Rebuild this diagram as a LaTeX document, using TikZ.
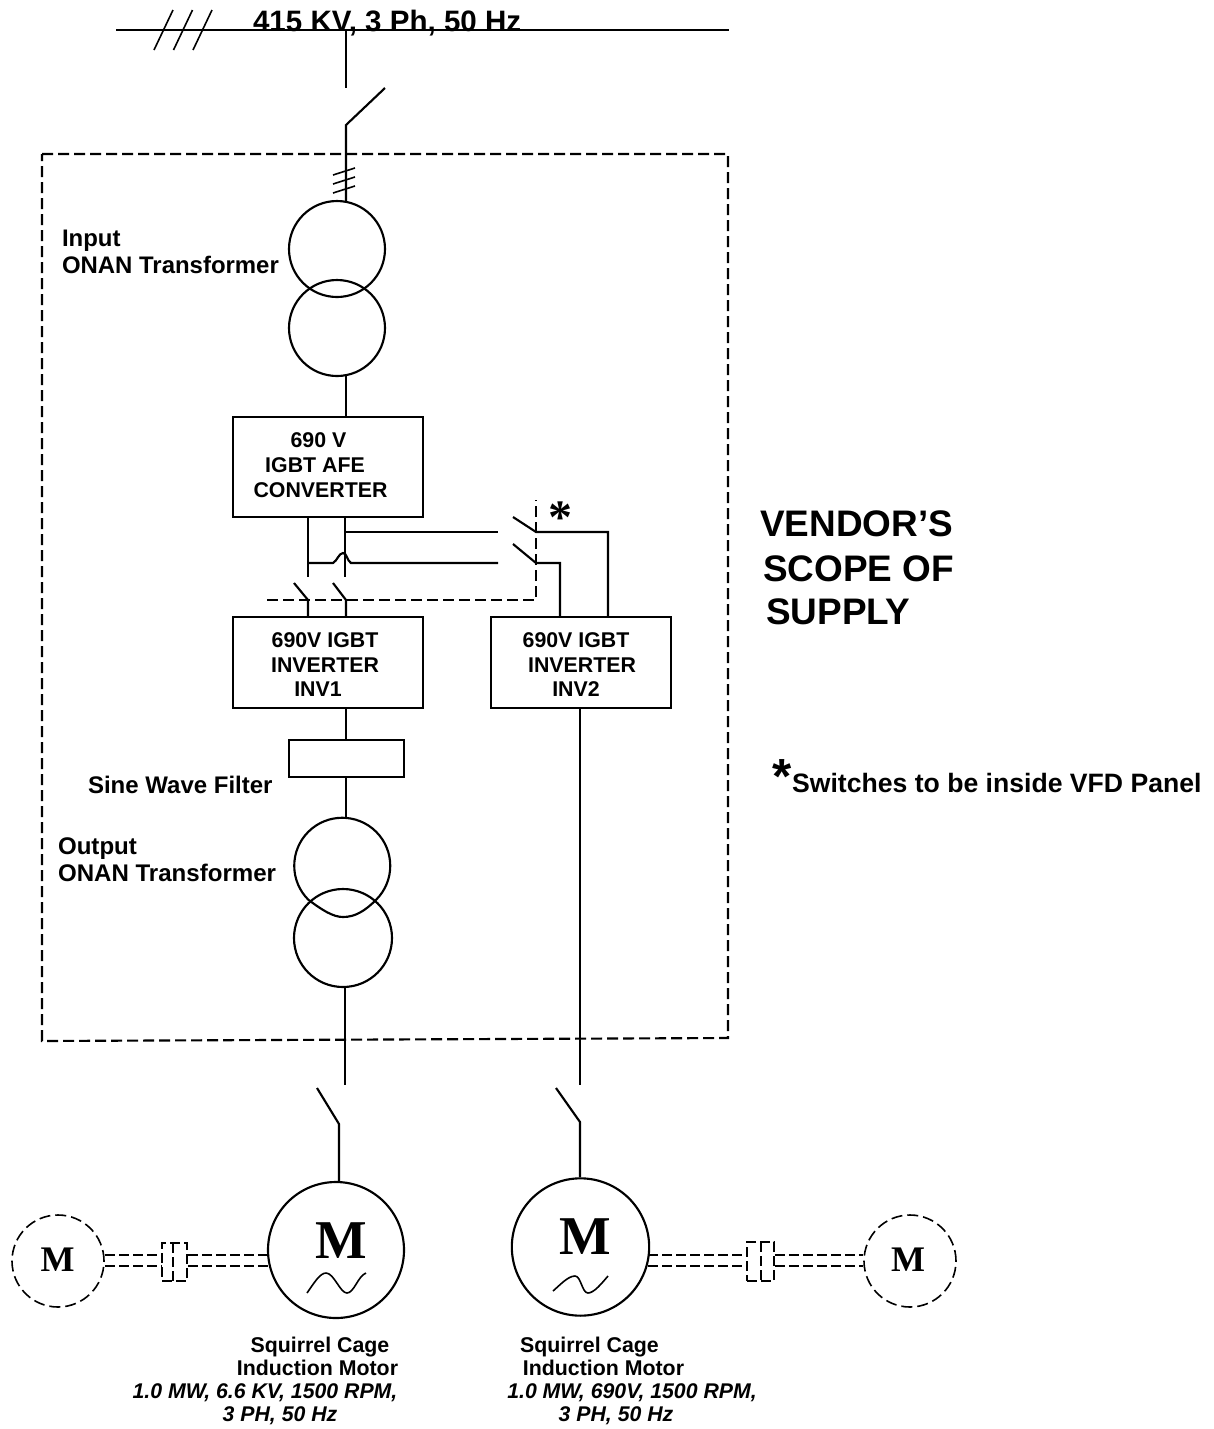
\documentclass[tikz,border=0pt]{standalone}
\usepackage{fontspec}
\setmainfont{Liberation Sans}
\newfontfamily\timesf{Liberation Serif}
\newcommand{\px}[1]{\fontsize{#1}{#1}\selectfont}
\begin{document}
\begin{tikzpicture}[x=0.75pt,y=-0.75pt,line width=1.6pt,
  dsh/.style={dash pattern=on 8.25pt off 3.75pt},
  lbl/.style={anchor=base west,inner sep=0pt,font=\bfseries\px{17.95pt}},
  captxt/.style={anchor=base,inner sep=0pt,font=\bfseries\px{16pt}},
  ital/.style={anchor=base,inner sep=0pt,font=\bfseries\itshape\px{15.95pt}},
  boxn/.style={draw,rectangle,inner sep=0pt},
  wind/.style={draw,circle,inner sep=0pt,minimum size=72pt},
  motor/.style={draw,circle,inner sep=0pt,minimum size=102pt},
  auxm/.style={draw,circle,inner sep=0pt,minimum size=69pt,dsh,line width=1.2pt},
  bigm/.style={inner sep=0pt,font=\timesf\bfseries\px{41pt}},
  smallm/.style={inner sep=0pt,font=\timesf\bfseries\px{27pt}},
  shaft/.style={line width=1.2pt,dash pattern=on 7.5pt off 3pt}]
\useasboundingbox (0,0) rectangle (1214,1429);
\fill[white] (0,0) rectangle (1214,1429);

% scope box
\coordinate (sa) at (42,154); \coordinate (sb) at (728,154);
\coordinate (sc) at (728,1038); \coordinate (sd) at (42,1041);
\draw[dsh] (sa) -- (sb) -- (sc) -- (sd) -- cycle;

% incoming bus
\coordinate (busl) at (116,30); \coordinate (busr) at (729,30);
\draw (busl) -- (busr);
\foreach \n/\dx in {a/0,b/19.5,c/39} {
  \coordinate (t\n1) at ({154+\dx},50); \coordinate (t\n2) at ({173+\dx},10);
  \draw[line width=1.2pt] (t\n1) -- (t\n2);
}
\node[lbl,font=\bfseries\px{22.15pt}] (title) at (252,31) {415 KV, 3 Ph, 50 Hz};
\coordinate (bustap) at (346,30); \coordinate (s0a) at (346,88);
\coordinate (s0b) at (346,125); \coordinate (s0c) at (385,88);
\draw (bustap) -- (s0a);
\draw (s0c) -- (s0b) -- (346,202);
\foreach \y in {0,9,18} {
  \coordinate (h1) at (333,{175+\y}); \coordinate (h2) at (355,{168+\y});
  \draw[line width=1.2pt] (h1) -- (h2);
}

% input transformer
\node[wind] (tr1) at (337,249) {};
\node[wind] (tr2) at (337,328) {};
\node[lbl] (in1) at (61,246) {Input};
\node[lbl] (in2) at (61,273.5) {ONAN Transformer};

% AFE
\node[boxn,minimum width=142.5pt,minimum height=75pt] (afe) at (328,467) {};
\node[captxt] (afe1) at (318.5,447.5) {690 V};
\node[captxt] (afe2) at (315,472.5) {IGBT AFE};
\node[captxt] (afe3) at (320.5,497) {CONVERTER};
\coordinate (trout) at (346,376);
\draw (trout) -- (afe.north -| trout);

% DC bus
\coordinate (da) at (308,517); \coordinate (db) at (308,577);
\coordinate (dc) at (345,517); \coordinate (dd) at (345,577);
\draw (da) -- (db); \draw (dc) -- (dd);
\coordinate (up) at (345,532); \coordinate (upe) at (498,532);
\draw (up) -- (upe);
\coordinate (lo) at (308,563); \coordinate (loa) at (333,563);
\coordinate (lob) at (351,563); \coordinate (loe) at (498,563);
\draw (lo) -- (loa) .. controls (337,561) and (339,553) .. (343,553)
  .. controls (347,553) and (347,561) .. (lob) -- (loe);

% interlocked switches
\coordinate (lk) at (536,500); \coordinate (lk2) at (536,600); \coordinate (lk3) at (267,600);
\draw[dsh] (lk3) -- (lk2) -- (lk);
\node[boxn,minimum width=142.5pt,minimum height=68.25pt] (inv1) at (328,662.5) {};
\node[boxn,minimum width=135pt,minimum height=68.25pt] (inv2) at (581,662.5) {};
\coordinate (p1) at (294,583); \coordinate (p2) at (308,600);
\coordinate (q1) at (333,583); \coordinate (q2) at (346,600);
\draw (p1) -- (p2) -- (p2 |- inv1.north);
\draw (q1) -- (q2) -- (q2 |- inv1.north);
\coordinate (r1) at (513,517); \coordinate (r2) at (536,532); \coordinate (r3) at (608,532);
\coordinate (u1) at (513,544); \coordinate (u2) at (536,563); \coordinate (u3) at (560,563);
\draw (r1) -- (r2) -- (r3) -- (r3 |- inv2.north);
\draw (u1) -- (u2) -- (u3) -- (u3 |- inv2.north);
\node[inner sep=0pt,font=\timesf\bfseries\px{36pt}] (st1) at (560.5,518) {*};

\node[captxt] (i11) at (325,647) {690V IGBT};
\node[captxt] (i12) at (325,672) {INVERTER};
\node[captxt] (i13) at (318,696) {INV1};
\node[captxt] (i21) at (576,647) {690V IGBT};
\node[captxt] (i22) at (582,672) {INVERTER};
\node[captxt] (i23) at (576,696) {INV2};

% filter and output transformer
\node[boxn,minimum width=86.25pt,minimum height=27.75pt] (sw) at (346.5,758.5) {};
\coordinate (i1o) at (346,708);
\draw (i1o) -- (i1o |- sw.north);
\coordinate (fo) at (346,777); \coordinate (to) at (346,817);
\draw (fo) -- (to);
\node[lbl,font=\bfseries\px{18pt}] (swl) at (87,793) {Sine Wave Filter};
\node[lbl,font=\bfseries\px{18.05pt}] (ou1) at (57,854) {Output};
\node[lbl,font=\bfseries\px{18.05pt}] (ou2) at (57,881) {ONAN Transformer};
\coordinate (oc) at (343,865);
\node[inner sep=0pt,circle,minimum size=72pt] (tr3) at (oc) {};
\draw (tr3.225) arc[start angle=225,end angle=-45,radius=36pt]
  .. controls (365,911) and (355,917) .. (343,917)
  .. controls (333,917) and (322,910) .. (tr3.225);
\node[wind,minimum size=73.5pt] (tr4) at (343,938) {};

% outgoing feeders
\coordinate (o1) at (345,988); \coordinate (o1e) at (345,1085);
\draw (o1) -- (o1e);
\coordinate (i2o) at (580,708); \coordinate (i2e) at (580,1085);
\draw (i2o) -- (i2e);
\node[motor] (m1) at (336,1250) {};
\node[motor,minimum size=103pt] (m2) at (580.5,1247) {};
\coordinate (a1) at (317,1088); \coordinate (a2) at (339,1124);
\coordinate (b1) at (556,1088); \coordinate (b2) at (580,1122);
\draw (a1) -- (a2) -- (a2 |- m1.north);
\draw (b1) -- (b2) -- (b2 |- m2.north);
\node[bigm] (m1t) at (341,1241) {M};
\node[bigm] (m2t) at (585,1237) {M};
\draw[line width=1.2pt] (307,1293) .. controls (314,1283) and (320,1273) .. (326,1273)
  .. controls (334,1273) and (340,1293) .. (347,1293)
  .. controls (354,1293) and (358,1276) .. (366,1273);
\draw[line width=1.2pt] (553,1291) .. controls (560,1285) and (568,1276) .. (575,1276)
  .. controls (581,1276) and (582,1293) .. (588,1293)
  .. controls (594,1293) and (602,1283) .. (608,1276);

% auxiliary motors
\node[auxm] (am1) at (58,1261) {};
\node[auxm] (am2) at (910,1261) {};
\node[smallm] (am1t) at (57.5,1260) {M};
\node[smallm] (am2t) at (908,1260) {M};
\node[boxn,shaft,minimum width=18.75pt,minimum height=28.5pt] (c1) at (174.5,1262) {};
\node[boxn,shaft,minimum width=20.25pt,minimum height=29.25pt] (c2) at (760.5,1261.5) {};
\draw[shaft] (173,1243) -- (173,1281);
\draw[shaft] (761,1242) -- (761,1281);
\foreach \y in {1255,1266} {
  \draw[shaft] (105,\y) -- (c1.west |- 0,\y);
  \draw[shaft] (c1.east |- 0,\y) -- (268,\y);
  \draw[shaft] (648,\y) -- (c2.west |- 0,\y);
  \draw[shaft] (c2.east |- 0,\y) -- (863,\y);
}

% captions
\node[captxt] (c11) at (320,1352) {Squirrel Cage};
\node[captxt] (c12) at (317.5,1375) {Induction Motor};
\node[ital] (c13) at (265,1398) {1.0 MW, 6.6 KV, 1500 RPM,};
\node[ital] (c14) at (280,1421) {3 PH, 50 Hz};
\node[captxt] (c21) at (589.5,1352) {Squirrel Cage};
\node[captxt] (c22) at (603.5,1375) {Induction Motor};
\node[ital] (c23) at (632,1398) {1.0 MW, 690V, 1500 RPM,};
\node[ital] (c24) at (616,1421) {3 PH, 50 Hz};

% side notes
\node[lbl,font=\bfseries\px{27.7pt}] (v1) at (759,536) {VENDOR’S};
\node[lbl,font=\bfseries\px{27.7pt}] (v2) at (762,581) {SCOPE OF};
\node[lbl,font=\bfseries\px{27.7pt}] (v3) at (765,624) {SUPPLY};
\node[inner sep=0pt,font=\bfseries\px{37pt}] (st2) at (782,777) {*};
\node[lbl,font=\bfseries\px{19.95pt}] (sn) at (791,792) {Switches to be inside VFD Panel};
\end{tikzpicture}
\end{document}
